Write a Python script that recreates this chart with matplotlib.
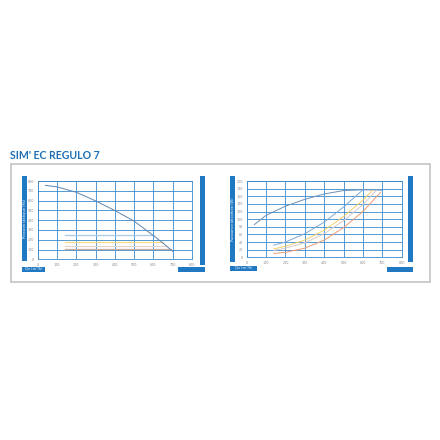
import matplotlib
matplotlib.use('Agg')
import matplotlib.pyplot as plt
from matplotlib.patches import Rectangle

W = 440.0

# left chart: static pressure vs airflow
qv_curve = [40, 100, 200, 300, 400, 500, 600, 650, 700]
pa_curve = [755, 740, 685, 597, 498, 390, 242, 165, 82]

# horizontal operating lines (pressure levels, start and end airflow)
level_pa = [248, 174, 139, 103]
level_start = [140, 140, 140, 140]
level_end = [605, 652, 672, 692]
level_colors = ['#a9cbe8', '#f7dc86', '#e3d3d0', '#c9ae9c']

# right chart: absorbed power
p_qv = [
    [40, 100, 200, 300, 400, 500, 600, 700],
    [140, 200, 300, 400, 500, 600],
    [140, 200, 300, 400, 500, 600, 650],
    [140, 200, 300, 400, 500, 600, 670],
    [140, 200, 300, 400, 500, 600, 690],
]
p_w = [
    [86, 110, 134, 152, 166, 175, 177, 176],
    [32, 40, 62, 92, 132, 177],
    [22, 29, 45, 71, 107, 150, 176],
    [18, 24, 38, 62, 96, 138, 176],
    [10, 13, 24, 45, 78, 120, 170],
]
p_colors = ['#6b8fb8', '#7fa8d8', '#f5cf6a', '#d9c9cc', '#ef9a72']

blue = '#1f78c1'
grid_blue = '#3a8bcc'


def fig_rect(x0, y0, x1, y1):
    return [x0 / W, 1 - y1 / W, (x1 - x0) / W, (y1 - y0) / W]


def box(fig, x0, y0, x1, y1, **kw):
    r = fig_rect(x0, y0, x1, y1)
    fig.patches.append(Rectangle((r[0], r[1]), r[2], r[3],
                                 transform=fig.transFigure, **kw))


def setup_axes(ax, ymax, ystep):
    ax.set_xlim(0, 800)
    ax.set_ylim(0, ymax)
    ax.set_xticks(range(0, 801, 100))
    ax.set_yticks(range(0, ymax + 1, ystep))
    ax.grid(True, color=grid_blue, lw=0.6)
    for s in ax.spines.values():
        s.set_color(grid_blue)
        s.set_linewidth(0.6)
    ax.tick_params(length=0, labelsize=2.4, colors='#8a8a8a', pad=2.5)
    ax.set_axisbelow(True)


fig = plt.figure(figsize=(4.4, 4.4), dpi=100)

fig.text(10 / W, 1 - 159 / W, "SIM' EC REGULO 7", fontsize=7.6,
         fontweight='bold', color='#1f6fb5', family='Lato')

box(fig, 11, 164, 430, 282, facecolor='none', edgecolor='#c4c4c4', lw=1.2)

# left chart
ax1 = fig.add_axes(fig_rect(37.7, 181, 192, 259.3))
setup_axes(ax1, 800, 100)
for y, a, b, c in zip(level_pa, level_start, level_end, level_colors):
    ax1.plot([a, b], [y, y], color=c, lw=0.9)
ax1.plot(qv_curve, pa_curve, color='#5f86b3', lw=0.7)

box(fig, 22.3, 176, 26.7, 261, facecolor=blue, edgecolor='none')
fig.text(24.6 / W, 1 - 218 / W, 'Pression statique (Pa)', rotation=90,
         fontsize=2.6, color='white', ha='center', va='center')
box(fig, 22.3, 266.5, 45, 271.5, facecolor=blue, edgecolor='none')
fig.text(33.6 / W, 1 - 269 / W, 'Qv (m³/h)', fontsize=2.6, color='white',
         ha='center', va='center')
box(fig, 200, 176, 205, 265, facecolor=blue, edgecolor='none')
box(fig, 178.3, 267.5, 205, 272.3, facecolor=blue, edgecolor='none')

# right chart
ax2 = fig.add_axes(fig_rect(246.7, 181, 401.7, 257.3))
setup_axes(ax2, 200, 20)
for xs, ys, c in zip(p_qv, p_w, p_colors):
    ax2.plot(xs, ys, color=c, lw=0.7)

box(fig, 230, 176, 235, 262, facecolor=blue, edgecolor='none')
fig.text(232.5 / W, 1 - 219 / W, 'Puissance absorbée (W)', rotation=90,
         fontsize=2.6, color='white', ha='center', va='center')
box(fig, 230, 266, 257, 271, facecolor=blue, edgecolor='none')
fig.text(243.5 / W, 1 - 268.5 / W, 'Qv (m³/h)', fontsize=2.6, color='white',
         ha='center', va='center')
box(fig, 408, 176, 413, 262, facecolor=blue, edgecolor='none')
box(fig, 386.7, 266.7, 413, 271.7, facecolor=blue, edgecolor='none')

fig.savefig('out.png', dpi=100)
